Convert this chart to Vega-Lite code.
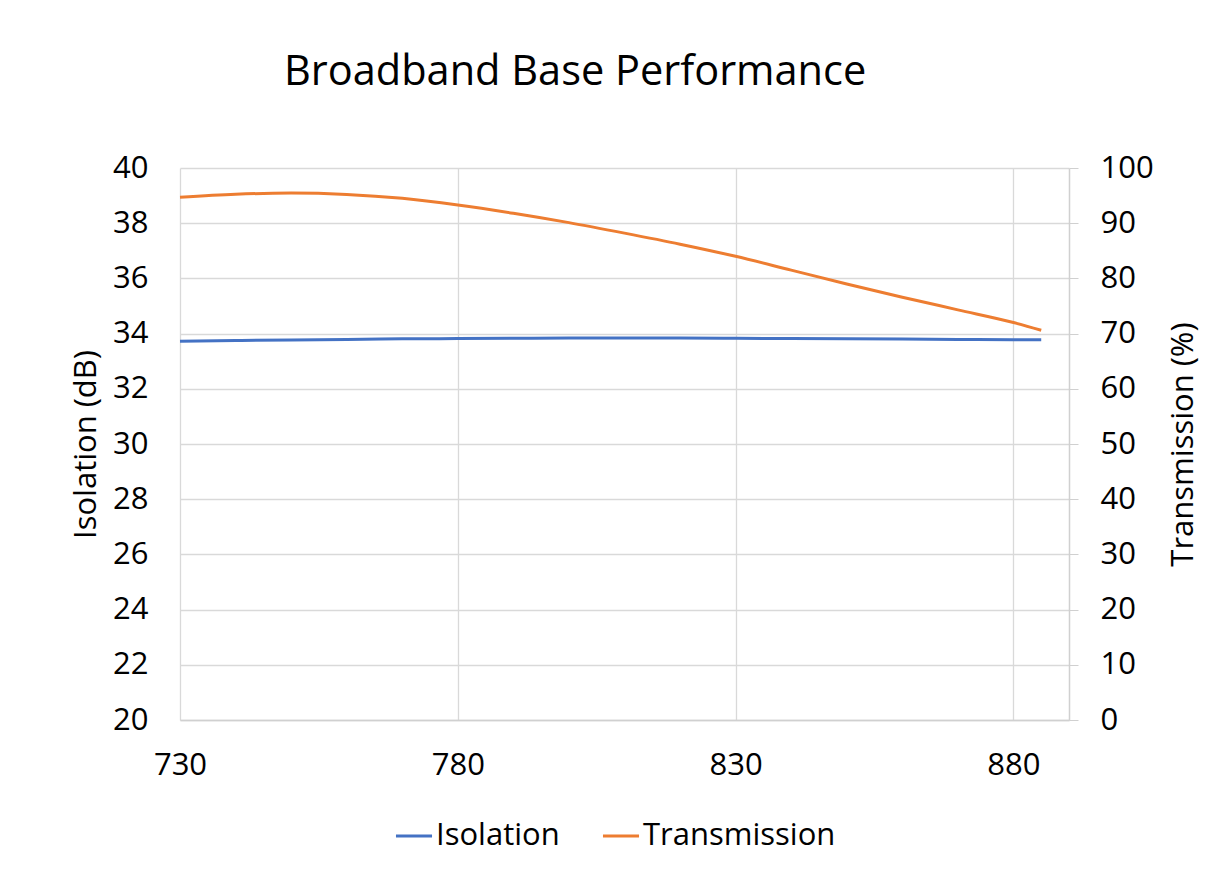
{
  "$schema": "https://vega.github.io/schema/vega-lite/v6.json",
  "autosize": {"type": "none"},
  "width": 889,
  "height": 552,
  "padding": {"left": 180, "top": 168, "right": 140, "bottom": 153},
  "background": "white",
  "config": {
    "font": "Open Sans",
    "view": {"stroke": null},
    "axis": {"gridColor": "#d9d9d9", "gridWidth": 1.3, "domainColor": "#d0d0d0", "domainWidth": 1.5, "tickColor": "#d0d0d0", "labelColor": "#000", "titleColor": "#000", "labelFontSize": 31, "titleFontSize": 31, "titleFontWeight": "normal", "labelFlush": false, "labelOverlap": false}
  },
  "title": {"text": "Broadband Base Performance", "fontSize": 41.5, "fontWeight": "normal", "font": "Open Sans", "color": "#000", "anchor": "start", "dx": 104, "offset": 59, "frame": "group"},
  "data": {"values": [
    {"freq": 730, "iso": 33.72, "trans": 94.7},
    {"freq": 740, "iso": 33.75, "trans": 95.25},
    {"freq": 750, "iso": 33.77, "trans": 95.45},
    {"freq": 760, "iso": 33.79, "trans": 95.2},
    {"freq": 770, "iso": 33.81, "trans": 94.5},
    {"freq": 780, "iso": 33.82, "trans": 93.3},
    {"freq": 790, "iso": 33.83, "trans": 91.8},
    {"freq": 800, "iso": 33.84, "trans": 90.1},
    {"freq": 810, "iso": 33.84, "trans": 88.2},
    {"freq": 820, "iso": 33.84, "trans": 86.2},
    {"freq": 830, "iso": 33.83, "trans": 84.0},
    {"freq": 840, "iso": 33.82, "trans": 81.5},
    {"freq": 850, "iso": 33.81, "trans": 79.0},
    {"freq": 860, "iso": 33.80, "trans": 76.6},
    {"freq": 870, "iso": 33.79, "trans": 74.3},
    {"freq": 880, "iso": 33.78, "trans": 72.0},
    {"freq": 885, "iso": 33.78, "trans": 70.6}
  ]},
  "encoding": {
    "x": {"field": "freq", "type": "quantitative", "scale": {"domain": [730, 890], "nice": false, "zero": false},
      "axis": {"values": [730, 780, 830, 880], "title": null, "ticks": false, "labelPadding": 30, "domain": true, "grid": true}}
  },
  "layer": [
    {
      "mark": {"type": "line", "strokeWidth": 3, "interpolate": "monotone"},
      "encoding": {
        "y": {"field": "iso", "type": "quantitative", "scale": {"domain": [20, 40], "nice": false, "zero": false},
          "axis": {"values": [20, 22, 24, 26, 28, 30, 32, 34, 36, 38, 40], "title": "Isolation (dB)", "ticks": false, "domain": false, "labelPadding": 32, "titlePadding": 10}},
        "color": {"datum": "Isolation", "type": "nominal", "scale": {"domain": ["Isolation", "Transmission"], "range": ["#4472C4", "#ED7D31"]},
          "legend": {"orient": "none", "legendX": 214, "legendY": 648, "direction": "horizontal", "title": null, "symbolType": "stroke", "symbolSize": 1300, "symbolStrokeWidth": 3, "labelFontSize": 31, "labelColor": "#000", "labelLimit": 0, "columnPadding": 36, "labelOffset": 2}}
      }
    },
    {
      "mark": {"type": "line", "strokeWidth": 3, "interpolate": "monotone"},
      "encoding": {
        "y": {"field": "trans", "type": "quantitative", "scale": {"domain": [0, 100], "nice": false},
          "axis": {"orient": "right", "values": [0, 10, 20, 30, 40, 50, 60, 70, 80, 90, 100], "title": "Transmission (%)", "titleAngle": 270, "titleBaseline": "bottom", "grid": false, "ticks": true, "tickSize": 9, "domain": true, "labelPadding": 22, "titlePadding": 46}},
        "color": {"datum": "Transmission", "type": "nominal"}
      }
    }
  ],
  "resolve": {"scale": {"y": "independent"}}
}
